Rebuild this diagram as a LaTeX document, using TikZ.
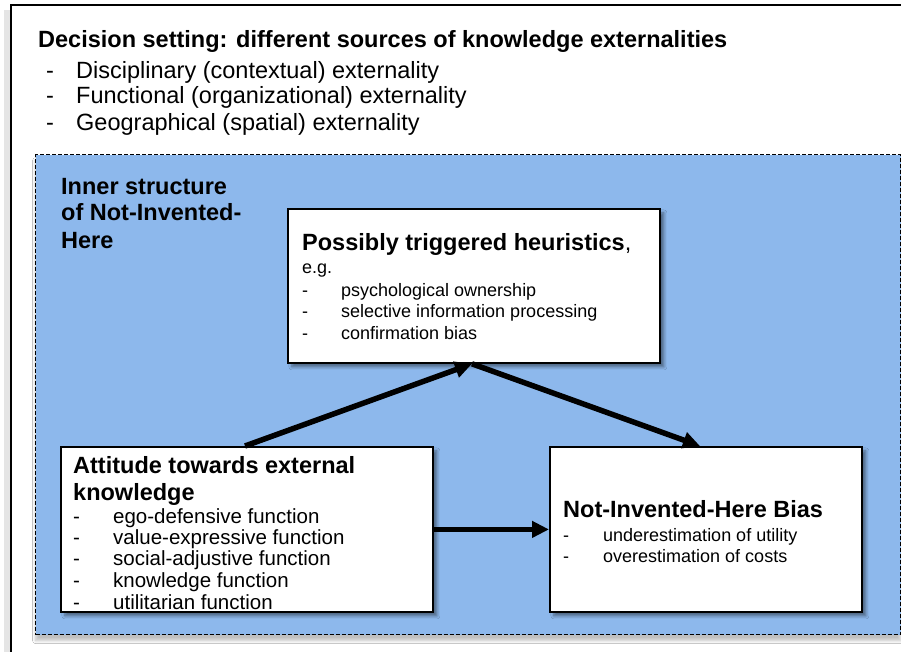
\documentclass[tikz,border=0pt]{standalone}
\usepackage{fontspec}
\setmainfont{Liberation Sans}
\usetikzlibrary{calc,arrows.meta,shadows.blur}
\definecolor{panelblue}{RGB}{141,184,236}
\begin{document}
\begin{tikzpicture}[x=1pt,y=-1pt,
  card/.style={draw=black, line width=1.8pt, fill=white, inner sep=0pt,
    anchor=north west,
    blur shadow={shadow xshift=4pt, shadow yshift=-4pt, shadow opacity=45,
      shadow blur radius=3pt, shadow blur steps=6}},
  panel/.style={draw=black, line width=1.2pt, dash pattern=on 4pt off 2pt,
    fill=panelblue, inner sep=0pt, anchor=north west,
    blur shadow={shadow xshift=0pt, shadow yshift=-6pt, shadow opacity=25,
      shadow blur radius=3pt, shadow blur steps=6}},
  big/.style={font=\fontsize{23.5}{28}\selectfont, inner sep=0pt, anchor=base west},
  bigbold/.style={big, font=\fontsize{23.5}{28}\selectfont\bfseries},
  small/.style={font=\fontsize{18}{21}\selectfont, inner sep=0pt, anchor=base west},
  mid/.style={font=\fontsize{20.5}{22}\selectfont, inner sep=0pt, anchor=base west},
  flow/.style={line width=5.5pt, -{Triangle[length=17pt,width=16pt]}}]
\useasboundingbox (0,0) rectangle (901,652);
\fill[white] (0,0) rectangle (901,652);

% outer frame (continues past the right and bottom edges)
\fill[black!10] (4,10) rectangle (10,652);
\draw[line width=1.5pt] (11,652) -- (11,5) -- (901,5);

% decision setting
\node[bigbold] (title) at (38,48) {Decision setting: different sources of knowledge externalities};
\foreach \y/\t [count=\i] in {79/Disciplinary (contextual) externality,
                             104/Functional (organizational) externality,
                             131/Geographical (spatial) externality} {
  \node[big] (dash\i) at (46,\y) {-};
  \node[big] (src\i) at (76,\y) {\t};
}

% inner structure panel
\node[panel, minimum width=865pt, minimum height=480pt] (panel) at (35,154) {};
\node[bigbold] (inner1) at (61,195) {Inner structure};
\node[bigbold] (inner2) at (61,221) {of Not-Invented-};
\node[bigbold] (inner3) at (61,248) {Here};

% boxes
\node[card, minimum width=372pt, minimum height=154pt] (heur) at (287,208) {};
\node[card, minimum width=372pt, minimum height=165pt] (att) at (60,446) {};
\node[card, minimum width=312pt, minimum height=165pt] (nih) at (549,446) {};

% heuristics text
\node[big] (heurT) at (302,251) {\textbf{Possibly triggered heuristics},};
\node[small] (heurEg) at (302,273) {e.g.};
\foreach \y/\t [count=\i] in {296/psychological ownership,
                             317/selective information processing,
                             339/confirmation bias} {
  \node[small] (hd\i) at (302,\y) {-};
  \node[small] (hi\i) at (341,\y) {\t};
}

% attitude text
\node[bigbold] (attT1) at (73,473) {Attitude towards external};
\node[bigbold] (attT2) at (73,500) {knowledge};
\foreach \y/\t [count=\i] in {523/ego-defensive function,
                             544/value-expressive function,
                             565/social-adjustive function,
                             587/knowledge function,
                             609/utilitarian function} {
  \node[mid] (ad\i) at (73,\y) {-};
  \node[mid] (ai\i) at (113,\y) {\t};
}

% bias text
\node[bigbold] (nihT) at (563,517) {Not-Invented-Here Bias};
\foreach \y/\t [count=\i] in {541/underestimation of utility,
                             562/overestimation of costs} {
  \node[small] (nd\i) at (563,\y) {-};
  \node[small] (ni\i) at (603,\y) {\t};
}

% connectors
\coordinate (attTop) at ($(att.north west)+(185,0)$);
\coordinate (heurBot) at ($(heur.south west)+(185,0)$);
\coordinate (nihTop) at ($(nih.north west)+(151,0)$);
\draw[flow] (attTop) -- (heurBot);
\draw[flow] (heurBot) -- (nihTop);
\draw[flow] (att.east) -- (att.east -| nih.west);
\end{tikzpicture}
\end{document}
